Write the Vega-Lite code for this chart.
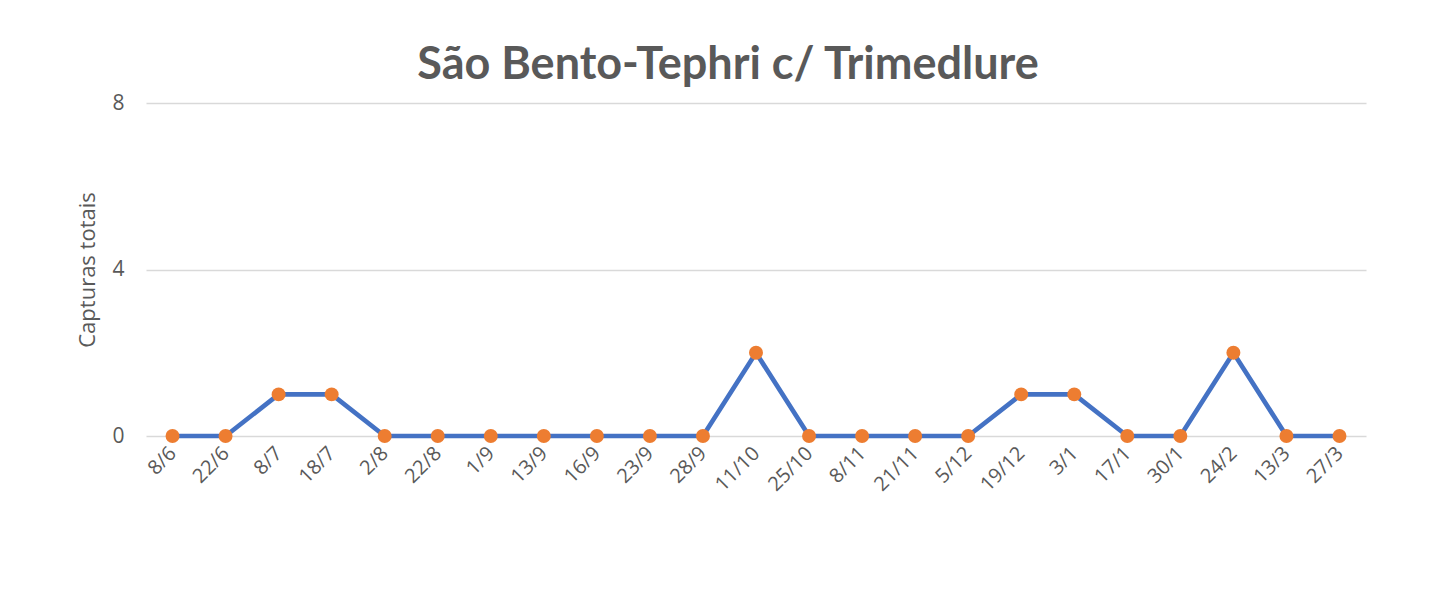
{
  "$schema": "https://vega.github.io/schema/vega-lite/v6.json",
  "autosize": "none",
  "width": 1220,
  "height": 333,
  "padding": {"left": 146, "top": 103, "right": 73, "bottom": 156},
  "background": "white",
  "title": {
    "text": "São Bento-Tephri c/ Trimedlure",
    "font": "Lato",
    "fontSize": 45,
    "fontWeight": "bold",
    "color": "#595959",
    "anchor": "middle",
    "frame": "group",
    "dx": -28,
    "offset": 4
  },
  "config": {
    "view": {"stroke": null},
    "axis": {"labelFont": "Open Sans", "titleFont": "Open Sans", "labelColor": "#595959", "titleColor": "#595959"}
  },
  "data": {
    "values": [
      {"data": "8/6", "capturas": 0},
      {"data": "22/6", "capturas": 0},
      {"data": "8/7", "capturas": 1},
      {"data": "18/7", "capturas": 1},
      {"data": "2/8", "capturas": 0},
      {"data": "22/8", "capturas": 0},
      {"data": "1/9", "capturas": 0},
      {"data": "13/9", "capturas": 0},
      {"data": "16/9", "capturas": 0},
      {"data": "23/9", "capturas": 0},
      {"data": "28/9", "capturas": 0},
      {"data": "11/10", "capturas": 2},
      {"data": "25/10", "capturas": 0},
      {"data": "8/11", "capturas": 0},
      {"data": "21/11", "capturas": 0},
      {"data": "5/12", "capturas": 0},
      {"data": "19/12", "capturas": 1},
      {"data": "3/1", "capturas": 1},
      {"data": "17/1", "capturas": 0},
      {"data": "30/1", "capturas": 0},
      {"data": "24/2", "capturas": 2},
      {"data": "13/3", "capturas": 0},
      {"data": "27/3", "capturas": 0}
    ]
  },
  "encoding": {
    "x": {
      "field": "data",
      "type": "ordinal",
      "sort": null,
      "scale": {"type": "point", "padding": 0.5},
      "axis": {
        "title": null,
        "labelAngle": -45,
        "labelFontSize": 20,
        "labelAlign": "right",
        "labelBaseline": "middle",
        "labelPadding": 14,
        "labelOverlap": false,
        "ticks": false,
        "domain": false,
        "grid": false
      }
    },
    "y": {
      "field": "capturas",
      "type": "quantitative",
      "scale": {"domain": [0, 8], "nice": false},
      "axis": {
        "title": "Capturas totais",
        "titleFontSize": 22,
        "titleFontWeight": "normal",
        "titlePadding": 12,
        "values": [0, 4, 8],
        "labelFontSize": 21,
        "labelPadding": 22,
        "ticks": false,
        "domain": false,
        "gridColor": "#D9D9D9",
        "gridWidth": 1.5
      }
    }
  },
  "layer": [
    {"mark": {"type": "line", "color": "#4472C4", "strokeWidth": 4.7}},
    {"mark": {"type": "circle", "color": "#ED7D31", "opacity": 1, "size": 195}}
  ]
}
